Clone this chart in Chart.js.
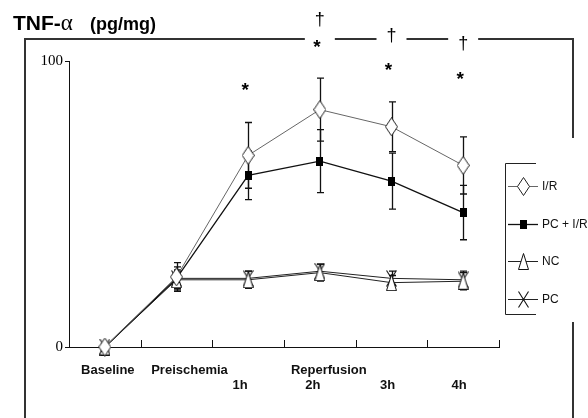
<!DOCTYPE html>
<html>
<head>
<meta charset="utf-8">
<script src="https://cdn.jsdelivr.net/npm/chart.js@4"></script>
<style>
  body { margin: 0; background: #fff; }
</style>
</head>
<body>
<canvas id="diagram" width="588" height="418"></canvas>
<script>
// data
const categories = ['Baseline', 'Preischemia', '1h', '2h', '3h', '4h'];
const phaseLabel = 'Reperfusion';
const seriesNames = ['I/R', 'PC + I/R', 'NC', 'PC'];
const irValues = [0, 24.5, 67, 83, 77, 63.5];
const irErrors = [0, 5, 11.5, 11, 8.7, 10];
const pcirValues = [0, 24, 60, 65, 58, 47];
const pcirErrors = [0, 4, 8.5, 11, 9.8, 9.5];
const ncValues = [0, 23.5, 23.5, 26, 22.5, 23];
const ncErrors = [0, 3, 3, 3, 2.5, 3];
const pcValues = [0, 24, 24, 26.5, 24, 23.5];
const pcErrors = [0, 3, 2.5, 2.5, 2.5, 3];
const yTicks = [0, 100];
const stars = ['', '', '*', '*', '*', '*'];
const daggers = ['', '', '', '†', '†', '†'];

// layout bits (pixels)
const starY = [0, 0, 87, 44, 67, 76];
const daggerY = [0, 0, 0, 20, 36, 44];
const labelDx = [3, 13, -8, -7, -4, -4];
const labelRow = [0, 0, 1, 1, 1, 1];

// little canvases used as point markers
function marker(kind) {
    const c = document.createElement('canvas');
    const g = c.getContext('2d');
    if (kind == 'diamond') {
        c.width = 13; c.height = 19;
        g.beginPath();
        g.moveTo(6.5, 0.5); g.lineTo(12.5, 9.5); g.lineTo(6.5, 18.5); g.lineTo(0.5, 9.5);
        g.closePath();
        g.fillStyle = '#fff'; g.fill();
        g.strokeStyle = '#222'; g.lineWidth = 1; g.stroke();
    } else if (kind == 'square') {
        c.width = 7; c.height = 9;
        g.fillStyle = '#000';
        g.fillRect(0, 0, 7, 9);
    } else if (kind == 'triangle') {
        c.width = 11; c.height = 17;
        g.beginPath();
        g.moveTo(5.5, 0.5); g.lineTo(10.5, 16.5); g.lineTo(0.5, 16.5);
        g.closePath();
        g.fillStyle = '#fff'; g.fill();
        g.strokeStyle = '#111'; g.lineWidth = 1; g.stroke();
    } else {
        c.width = 11; c.height = 17;
        g.beginPath();
        g.moveTo(0.5, 0.5); g.lineTo(10.5, 16.5);
        g.moveTo(10.5, 0.5); g.lineTo(0.5, 16.5);
        g.strokeStyle = '#111'; g.lineWidth = 1.1; g.stroke();
    }
    return c;
}

function errorBars(chart) {
    const ctx = chart.ctx;
    const x = chart.scales.x, y = chart.scales.y;
    ctx.save();
    ctx.strokeStyle = '#111';
    ctx.lineWidth = 1.3;
    chart.data.datasets.forEach(function (ds) {
        ds.data.forEach(function (v, i) {
            const e = ds.errors[i];
            if (!e) return;
            const px = Math.round(x.getPixelForValue(i)) + 0.5;
            const top = y.getPixelForValue(v + e), bot = y.getPixelForValue(v - e);
            ctx.beginPath();
            ctx.moveTo(px, top); ctx.lineTo(px, bot);
            ctx.moveTo(px - 3.5, top); ctx.lineTo(px + 3.5, top);
            ctx.moveTo(px - 3.5, bot); ctx.lineTo(px + 3.5, bot);
            ctx.stroke();
        });
    });
    ctx.restore();
}

const extras = {
    id: 'extras',
    beforeDatasetsDraw: function (chart) {
        errorBars(chart);
    },
    afterDraw: function (chart) {
        const ctx = chart.ctx;
        const x = chart.scales.x;
        const area = chart.chartArea;
        const step = x.getPixelForValue(1) - x.getPixelForValue(0);
        ctx.save();

        // short upward ticks between the categories
        ctx.strokeStyle = '#111';
        ctx.lineWidth = 1;
        for (let i = 0; i < categories.length; i++) {
            const tx = Math.round(x.getPixelForValue(i) + step / 2) + 0.5;
            ctx.beginPath();
            ctx.moveTo(tx, area.bottom);
            ctx.lineTo(tx, area.bottom - 7);
            ctx.stroke();
        }

        // x labels
        ctx.fillStyle = '#111';
        ctx.font = 'bold 13px Arial, "Liberation Sans"';
        ctx.textAlign = 'center';
        ctx.textBaseline = 'alphabetic';
        categories.forEach(function (c, i) {
            ctx.fillText(c, x.getPixelForValue(i) + labelDx[i], 374 + labelRow[i] * 15);
        });
        ctx.fillText(phaseLabel, x.getPixelForValue(3) + 9, 374);

        // title
        ctx.textAlign = 'left';
        ctx.font = 'bold 21px Arial, "Liberation Sans"';
        ctx.fillStyle = '#000';
        ctx.fillText('TNF-', 13, 30);
        const w = ctx.measureText('TNF-').width;
        ctx.font = '23px "Liberation Serif", serif';
        ctx.fillText('α', 13 + w, 30);
        ctx.font = 'bold 18px Arial, "Liberation Sans"';
        ctx.fillText('(pg/mg)', 90, 30);

        // significance marks
        ctx.textAlign = 'center';
        ctx.textBaseline = 'middle';
        ctx.font = 'bold 19px Arial, "Liberation Sans"';
        stars.forEach(function (s, i) {
            if (s) ctx.fillText(s, x.getPixelForValue(i) - 3, starY[i] + 4);
        });
        ctx.font = '18px Arial, "Liberation Sans"';
        daggers.forEach(function (s, i) {
            if (s) ctx.fillText(s, x.getPixelForValue(i), daggerY[i]);
        });

        // outer frame, top edge broken where the daggers sit
        ctx.strokeStyle = '#333';
        ctx.lineWidth = 2;
        let gaps = [];
        daggers.forEach(function (s, i) {
            if (s) gaps.push(x.getPixelForValue(i));
        });
        ctx.beginPath();
        ctx.moveTo(25, 418);
        ctx.lineTo(25, 39);
        gaps.forEach(function (g) {
            ctx.lineTo(g - 15, 39);
            ctx.moveTo(g + 15, 39);
        });
        ctx.lineTo(573, 39);
        ctx.lineTo(573, 138);
        ctx.moveTo(573, 322);
        ctx.lineTo(573, 418);
        ctx.stroke();

        // legend
        ctx.strokeStyle = '#222';
        ctx.lineWidth = 1;
        ctx.beginPath();
        ctx.moveTo(536, 163.5); ctx.lineTo(505.5, 163.5); ctx.lineTo(505.5, 314.5); ctx.lineTo(536, 314.5);
        ctx.stroke();
        ctx.font = '12px Arial, "Liberation Sans"';
        ctx.textAlign = 'left';
        ctx.textBaseline = 'middle';
        chart.data.datasets.forEach(function (ds, k) {
            const ly = Math.round(186 + k * 37.5) + 0.5;
            ctx.strokeStyle = ds.borderColor;
            ctx.lineWidth = ds.borderWidth;
            ctx.beginPath();
            ctx.moveTo(508, ly); ctx.lineTo(538, ly);
            ctx.stroke();
            const img = ds.pointStyle;
            ctx.drawImage(img, Math.round(523 - img.width / 2), Math.round(ly - img.height / 2));
            ctx.fillStyle = '#111';
            ctx.fillText(ds.label, 542, ly);
        });
        ctx.restore();
    }
};

const ctx = document.getElementById('diagram');

const chart1 = new Chart(ctx, {
    type: 'line',
    data: {
        labels: categories,
        datasets: [
            { label: seriesNames[0], data: irValues, errors: irErrors, borderColor: '#666', borderWidth: 1, pointStyle: marker('diamond') },
            { label: seriesNames[1], data: pcirValues, errors: pcirErrors, borderColor: '#111', borderWidth: 1.3, pointStyle: marker('square') },
            { label: seriesNames[2], data: ncValues, errors: ncErrors, borderColor: '#222', borderWidth: 1, pointStyle: marker('triangle') },
            { label: seriesNames[3], data: pcValues, errors: pcErrors, borderColor: '#222', borderWidth: 1, pointStyle: marker('cross') }
        ]
    },
    options: {
        responsive: false,
        animation: false,
        clip: false,
        layout: { padding: { left: 25, right: 89, top: 61, bottom: 0 } },
        elements: { line: { tension: 0 }, point: { radius: 6 } },
        plugins: { legend: { display: false }, tooltip: { enabled: false } },
        scales: {
            x: {
                offset: true,
                grid: { display: false },
                border: { color: '#111', width: 1 },
                ticks: { display: false },
                afterFit: function (s) { s.height = 71; }
            },
            y: {
                min: 0,
                max: 100,
                afterBuildTicks: function (s) { s.ticks = yTicks.map(function (v) { return { value: v }; }); },
                grid: { drawOnChartArea: false, tickLength: 4, color: '#111' },
                border: { color: '#111', width: 1 },
                ticks: { color: '#000', padding: 2, font: { family: '"Liberation Serif", serif', size: 15 } },
                afterFit: function (s) { s.width = 44; }
            }
        }
    },
    plugins: [extras]
});
</script>
</body>
</html>
